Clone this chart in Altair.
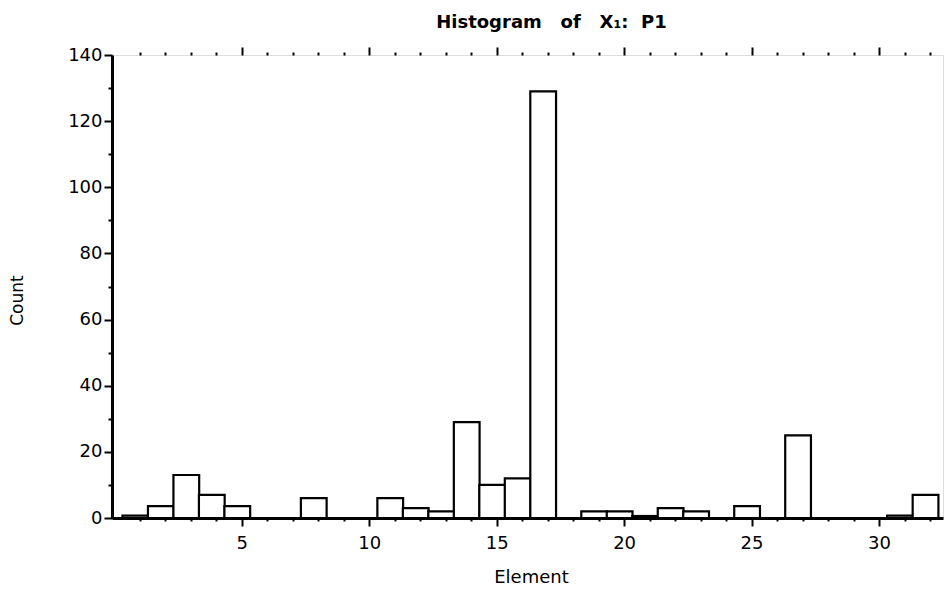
import altair as alt
import pandas as pd

elements = list(range(1, 33))
counts = [0.7, 3.6, 13, 7, 3.6, 0, 0, 6, 0, 0,
          6, 3, 2, 29, 10, 12, 129, 0, 2, 2,
          0.6, 3, 2, 0, 3.6, 0, 25, 0, 0, 0,
          0.7, 7]
y_ticks = list(range(0, 141, 10))

df = pd.DataFrame({"element": elements, "count": counts})

FONT = "DejaVu Sans"
xscale = alt.Scale(domain=[-0.09, 32.51], nice=False, zero=False)
yscale = alt.Scale(domain=[0, 140], nice=False)

x_tick = {"condition": {"test": "datum.value % 5 == 0", "value": 8}, "value": 3}
y_tick = {"condition": {"test": "datum.value % 20 == 0", "value": 8}, "value": 4}

bars = alt.Chart(df).transform_calculate(
    x0="datum.element - 0.68", x1="datum.element + 0.33"
).mark_rect(fill="white", stroke="black", strokeWidth=2.2).encode(
    x=alt.X("x0:Q", scale=xscale, axis=alt.Axis(
        orient="bottom", values=elements,
        labelExpr="datum.value % 5 == 0 ? datum.label : ''",
        tickSize=x_tick, tickWidth=2, tickColor="black",
        domainWidth=3, domainColor="black", grid=False,
        labelFont=FONT, labelFontSize=18, labelColor="black", labelPadding=8,
        labelFlush=False,
        title="Element", titleFont=FONT, titleFontSize=18, titleFontWeight="normal",
        titleColor="black", titleX=419, titleY=59, titleBaseline="middle",
        titleAlign="center")),
    x2="x1:Q",
    y=alt.Y("count:Q", scale=yscale, axis=alt.Axis(
        orient="left", values=y_ticks,
        labelExpr="datum.value % 20 == 0 ? datum.label : ''",
        tickSize=y_tick, tickWidth=2, tickColor="black",
        domainWidth=3, domainColor="black", grid=False,
        labelFont=FONT, labelFontSize=18, labelColor="black", labelPadding=2,
        labelFlush=False,
        title="Count", titleFont=FONT, titleFontSize=17, titleFontWeight="normal",
        titleColor="black", titleX=-95, titleY=245, titleAngle=-90,
        titleBaseline="middle", titleAlign="center")),
    y2=alt.datum(0),
)

top = alt.Chart(df).mark_point(opacity=0).encode(
    x=alt.X("element:Q", scale=xscale, axis=alt.Axis(
        orient="top", values=elements, labels=False, title=None,
        tickSize=x_tick, tickWidth=2, tickColor="black", domain=False, grid=False)),
)

title_text = "Histogram\u00a0\u00a0\u00a0of\u00a0\u00a0\u00a0X₁:\u00a0\u00a0P1"

chart = alt.layer(bars, top).resolve_axis(x="independent").properties(
    width=831, height=463,
    autosize=alt.AutoSizeParams(type="none"),
    padding={"left": 104, "top": 47, "right": 1, "bottom": 70},
    title=alt.TitleParams(text=title_text, font=FONT, fontSize=18,
                          fontWeight="bold", color="black", anchor="middle",
                          frame="group", dx=24, offset=14),
).configure_view(stroke="black", strokeWidth=2).configure(background="white")

chart.save("out.html", embed_options={"renderer": "svg", "actions": False})
